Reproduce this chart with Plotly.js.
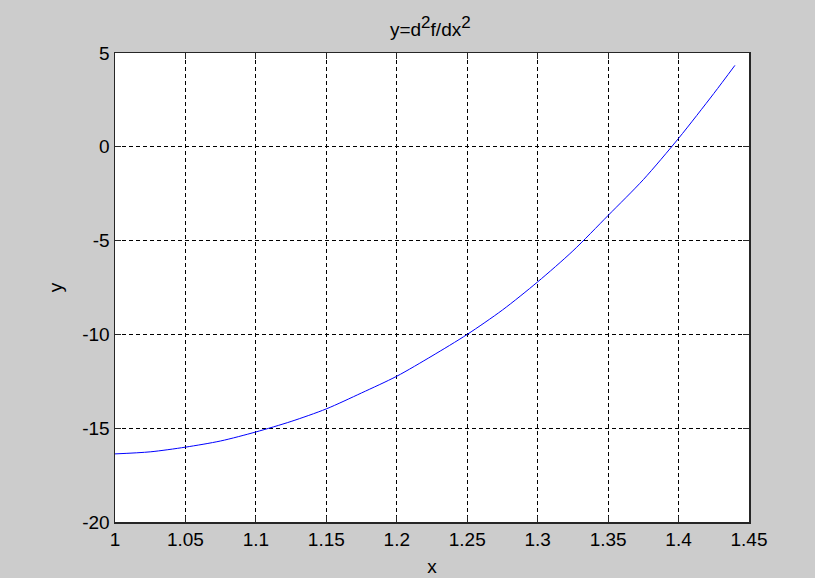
<!DOCTYPE html>
<html>
<head>
<meta charset="utf-8">
<script src="https://cdn.plot.ly/plotly-3.0.1.min.js"></script>
<style>html,body{margin:0;padding:0;background:#cccccc;}#chart{width:815px;height:578px;}</style>
</head>
<body>
<div id="chart"></div>
<script>
const xValues = [1.000, 1.025, 1.050, 1.075, 1.100, 1.125, 1.150, 1.175, 1.200, 1.225, 1.250, 1.275, 1.300, 1.325, 1.350, 1.375, 1.400, 1.425, 1.440];
const yValues = [-16.37, -16.26, -16.01, -15.68, -15.20, -14.64, -13.97, -13.12, -12.23, -11.15, -10.00, -8.70, -7.20, -5.55, -3.66, -1.75, 0.45, 2.84, 4.34];
const xTicks = [1, 1.05, 1.1, 1.15, 1.2, 1.25, 1.3, 1.35, 1.4, 1.45];
const xTickLabels = ['1', '1.05', '1.1', '1.15', '1.2', '1.25', '1.3', '1.35', '1.4', '1.45'];
const yTicks = [-20, -15, -10, -5, 0, 5];
const yTickLabels = ['-20', '-15', '-10', '-5', '0', '5'];

const font = {family: 'Liberation Sans, Arial, sans-serif', size: 19, color: '#000'};

const trace = {
  x: xValues, y: yValues, type: 'scatter', mode: 'lines',
  line: {color: '#0000ff', width: 1, shape: 'spline', smoothing: 0.8},
  hoverinfo: 'skip'
};

const axisCommon = {
  showgrid: true, gridcolor: '#000', gridwidth: 1, griddash: '4px,3px',
  showline: true, linecolor: '#262626', linewidth: 1.5, mirror: 'allticks',
  ticks: 'inside', ticklen: 6, tickcolor: '#262626', tickwidth: 1,
  zeroline: false, tickfont: font, fixedrange: true
};

const layout = {
  width: 815, height: 578,
  paper_bgcolor: '#cccccc', plot_bgcolor: '#ffffff',
  margin: {l: 115, r: 66, t: 53, b: 56},
  showlegend: false,
  font: font,
  title: {text: 'y=d<sup><span style="font-size:17px">2</span></sup>f/dx<sup><span style="font-size:17px">2</span></sup>', font: {family: font.family, size: 19, color: '#000'}, x: 0.528, xanchor: 'center', y: 0.95, yanchor: 'middle'},
  xaxis: Object.assign({}, axisCommon, {
    range: [1, 1.45], tickvals: xTicks, ticktext: xTickLabels,
    title: {text: 'x', font: font, standoff: 10}
  }),
  yaxis: Object.assign({}, axisCommon, {
    range: [-20, 5], tickvals: yTicks, ticktext: yTickLabels,
    title: {text: 'y', font: font, standoff: 14}
  })
};

Plotly.newPlot('chart', [trace], layout, {displayModeBar: false, staticPlot: true});
</script>
</body>
</html>
